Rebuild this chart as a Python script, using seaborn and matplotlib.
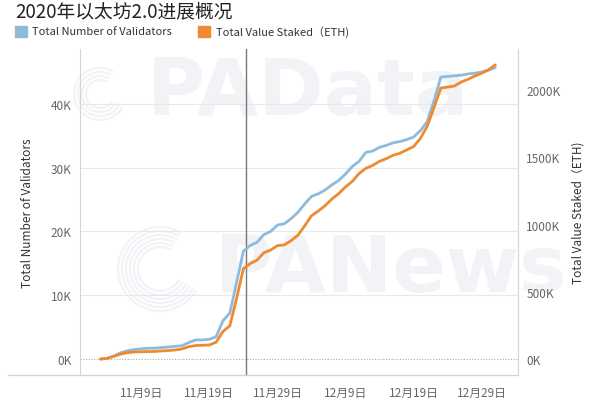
import pandas as pd
import matplotlib
matplotlib.use("Agg")
import matplotlib.pyplot as plt
from matplotlib.lines import Line2D
from matplotlib.patches import Rectangle, Arc
import seaborn as sns

# ------------------------
# DADOS
# ------------------------
START = "2020-11-03"
END = "2020-12-31"
REF_DATE = "2020-11-24 10:00"

validators_k = [
    0.0, 0.1, 0.5, 1.0, 1.3, 1.5, 1.6, 1.7, 1.7, 1.8,
    1.9, 2.0, 2.1, 2.6, 3.0, 3.0, 3.1, 3.5, 6.0, 7.2,
    12.0, 16.9, 17.8, 18.3, 19.5, 20.0, 21.0, 21.2, 22.0, 23.0,
    24.3, 25.5, 25.9, 26.5, 27.3, 28.0, 29.0, 30.2, 31.0, 32.4,
    32.6, 33.2, 33.5, 33.9, 34.1, 34.4, 34.8, 35.8, 37.2, 40.5,
    44.2, 44.3, 44.4, 44.5, 44.7, 44.8, 45.0, 45.3, 45.7,
]
staked_k = [
    0, 5, 20, 37, 47, 52, 54, 55, 56, 60,
    63, 67, 75, 92, 100, 102, 104, 125, 205, 246,
    450, 672, 709, 735, 790, 810, 843, 848, 880, 920,
    990, 1065, 1100, 1140, 1190, 1230, 1280, 1321, 1380, 1418,
    1440, 1470, 1490, 1515, 1530, 1555, 1580, 1640, 1731, 1870,
    2015, 2022, 2030, 2060, 2080, 2104, 2125, 2150, 2187,
]
left_ticks = [0, 10, 20, 30, 40]
right_ticks = [0, 500, 1000, 1500, 2000]
xtick_dates = ["2020-11-09", "2020-11-19", "2020-11-29",
               "2020-12-09", "2020-12-19", "2020-12-29"]

BLUE = "#8ebbdb"
ORANGE = "#ee8a2f"
GREY_TXT = "#666666"
WATERMARK = "#f1f3f7"

df = pd.DataFrame({
    "date": pd.date_range(START, END, freq="D"),
    "validators": [v * 1000 for v in validators_k],
    "staked": [v * 1000 for v in staked_k],
})

# ------------------------
# FIGURA
# ------------------------
sns.set_style("white")
plt.rcParams["font.family"] = ["Noto Sans CJK SC", "DejaVu Sans"]

fig = plt.figure(figsize=(6, 4.1), dpi=100)
ax = fig.add_axes([80 / 600, 34 / 410, 438 / 600, 326 / 410])
ax2 = ax.twinx()
ax.patch.set_alpha(0)
ax2.patch.set_alpha(0)

# marcas d'água (atrás das linhas)
ax.text(147 / 600, 1 - 93 / 410, "PAData", fontsize=57, color=WATERMARK,
        fontweight="bold", ha="left", va="center", zorder=0,
        transform=fig.transFigure, family="DejaVu Sans")
ax.text(215 / 600, 1 - 270 / 410, "PANews", fontsize=57, color=WATERMARK,
        fontweight="bold", ha="left", va="center", zorder=0,
        transform=fig.transFigure, family="DejaVu Sans")
# logos (anéis concêntricos)
for cx, cy, r0, n in [(100, 95, 14, 4), (160, 270, 22, 6)]:
    for i in range(n):
        d = 2 * (r0 + 4 * i) / 100
        ax.add_patch(Arc((cx / 100, (410 - cy) / 100), d, d, theta1=60, theta2=330,
                         transform=fig.dpi_scale_trans, color=WATERMARK,
                         lw=1.6, zorder=0, clip_on=False))

sns.lineplot(data=df, x="date", y="validators", ax=ax, color=BLUE, lw=2.0, zorder=3)
sns.lineplot(data=df, x="date", y="staked", ax=ax2, color=ORANGE, lw=2.0, zorder=3)

# limites
ax.set_ylim(-2500, 48600)
ax2.set_ylim(-119000, 2305000)
ax.set_xlim(pd.Timestamp("2020-10-31"), pd.Timestamp("2021-01-03 08:00"))

# grade
for t in left_ticks[1:]:
    ax.axhline(t * 1000, color="#e8e8e8", lw=0.8, zorder=1)
ax.axhline(0, color="#aaaaaa", lw=0.8, ls=(0, (1, 1.5)), zorder=1)
ax.axvline(pd.Timestamp(REF_DATE), color="#777777", lw=1.0, zorder=2)

# ticks
ax.set_yticks([t * 1000 for t in left_ticks])
ax.set_yticklabels([f"{t}K" for t in left_ticks])
ax2.set_yticks([t * 1000 for t in right_ticks])
ax2.set_yticklabels([f"{t}K" for t in right_ticks])
ax.set_xticks([pd.Timestamp(d) for d in xtick_dates])
ax.set_xticklabels([f"{pd.Timestamp(d).month}月{pd.Timestamp(d).day}日" for d in xtick_dates])
for a in (ax, ax2):
    a.tick_params(axis="both", length=0, labelsize=8.5, colors=GREY_TXT, pad=6)
ax.tick_params(axis="x", pad=8)

ax.set_xlabel("")
ax.set_ylabel("Total Number of Validators", fontsize=8.5, color="#333333", labelpad=12)
ax2.set_ylabel("Total Value Staked（ETH)", fontsize=8.5, color="#333333", labelpad=8)

# bordas
for a in (ax, ax2):
    for s in a.spines.values():
        s.set_visible(False)
ax.spines["left"].set_visible(True)
ax.spines["left"].set_color("#d4d4d4")
ax2.spines["right"].set_visible(True)
ax2.spines["right"].set_color("#d4d4d4")
fig.add_artist(Line2D([8 / 600, 518 / 600], [34 / 410, 34 / 410],
                      color="#d4d4d4", lw=0.9))

# título e legenda
fig.text(15 / 600, 1 - 12 / 410, "2020年以太坊2.0进展概况", fontsize=13.5,
         color="#222222", va="center", ha="left")
fig.add_artist(Rectangle((15 / 600, 1 - 38 / 410), 12 / 600, 11 / 410,
                         color=BLUE, transform=fig.transFigure))
fig.text(32 / 600, 1 - 32 / 410, "Total Number of Validators", fontsize=8,
         color="#333333", va="center", ha="left")
fig.add_artist(Rectangle((198 / 600, 1 - 38 / 410), 12 / 600, 11 / 410,
                         color=ORANGE, transform=fig.transFigure))
fig.text(216 / 600, 1 - 32 / 410, "Total Value Staked（ETH)", fontsize=8,
         color="#333333", va="center", ha="left")

fig.savefig("out.png", dpi=100)
